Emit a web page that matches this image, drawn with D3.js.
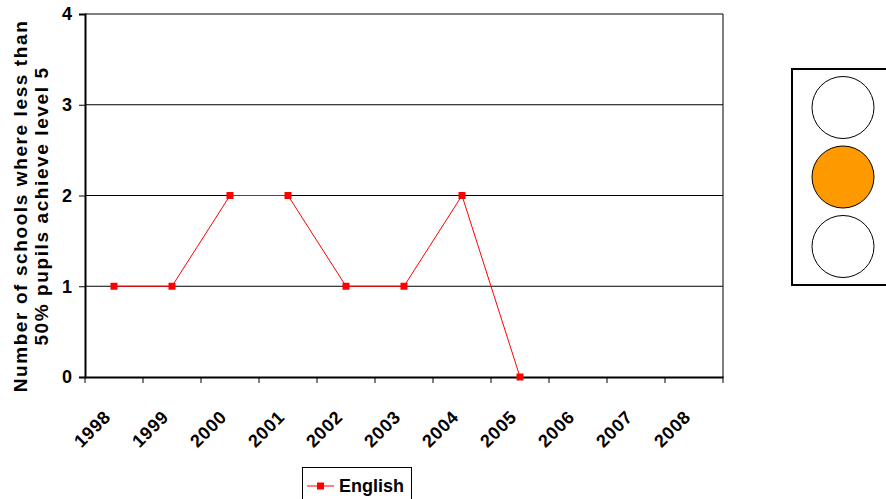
<!DOCTYPE html>
<html><head><meta charset="utf-8">
<script src="https://cdn.jsdelivr.net/npm/d3@7"></script>
<style>
html,body{margin:0;padding:0;background:#fff;}
svg{display:block;font-family:"Liberation Sans",Arial,sans-serif;font-weight:bold;}
</style></head>
<body>
<svg id="chart" width="886" height="499"></svg>
<script>
const years = ["1998","1999","2000","2001","2002","2003","2004","2005","2006","2007","2008"];
const englishValues = [1,1,2,2,1,1,2,0];
const yTicks = [0,1,2,3,4];
const seriesName = "English";
const yTitleLines = ["Number of schools where less than","50% pupils achieve level 5"];
const lights = ["#ffffff","#FF9900","#ffffff"];

const svg = d3.select("#chart");
const mLeft = 85, mRight = 723, mTop = 14, mBottom = 377;

const x = d3.scaleBand().domain(years).range([mLeft, mRight]).padding(0);
const y = d3.scaleLinear().domain([0,4]).range([mBottom, mTop]);

// gridlines
svg.append("g").selectAll("line").data(yTicks.filter(d=>d>0)).join("line")
  .attr("x1", mLeft).attr("x2", mRight)
  .attr("y1", d=>y(d)).attr("y2", d=>y(d))
  .attr("stroke","#000").attr("stroke-width",1);
// right border
svg.append("line").attr("x1",mRight).attr("x2",mRight).attr("y1",mTop).attr("y2",mBottom)
  .attr("stroke","#000").attr("stroke-width",1);

// y axis
const yAxis = svg.append("g").attr("transform",`translate(${mLeft},0)`)
  .call(d3.axisLeft(y).tickValues(yTicks).tickSize(6).tickFormat(d3.format("d")));
yAxis.select(".domain").attr("stroke","#000").attr("stroke-width",2);
yAxis.selectAll(".tick line").attr("stroke","#000");
yAxis.selectAll("text").attr("font-size",18).attr("font-weight","bold")
  .attr("font-family","Liberation Sans, Arial, sans-serif").attr("fill","#000").attr("x",-13);

// x axis
const xAxis = svg.append("g").attr("transform",`translate(0,${mBottom})`)
  .call(d3.axisBottom(x).tickSize(0).tickFormat(""));
xAxis.select(".domain").attr("stroke","#000").attr("stroke-width",2);
xAxis.selectAll(".tick").remove();
const edges = years.map(d=>x(d)).concat([mRight]);
svg.append("g").selectAll("line").data(edges).join("line")
  .attr("x1",d=>d).attr("x2",d=>d).attr("y1",mBottom).attr("y2",mBottom+6)
  .attr("stroke","#000");
svg.append("g").selectAll("text").data(years).join("text")
  .attr("transform", d=>`translate(${x(d)+x.bandwidth()/2-2},${mBottom+41}) rotate(-45)`)
  .attr("text-anchor","end").attr("letter-spacing",0.8)
  .attr("font-size",18).attr("fill","#000").text(d=>d);

// y title
const yt = svg.append("text").attr("transform","translate(0,206) rotate(-90)")
  .attr("text-anchor","middle").attr("font-size",19).attr("letter-spacing",1.6).attr("fill","#000");
yTitleLines.forEach((t,i)=>{
  yt.append("tspan").attr("x",0).attr("y", 27 + i*21).text(t);
});

// line
const pts = englishValues.map((v,i)=>({year:years[i], v}));
svg.append("path").datum(pts)
  .attr("d", d3.line().x(d=>x(d.year)+x.bandwidth()/2).y(d=>y(d.v)))
  .attr("fill","none").attr("stroke","#ff0000").attr("stroke-width",1);
svg.append("g").selectAll("rect").data(pts).join("rect")
  .attr("x", d=>x(d.year)+x.bandwidth()/2-3.5).attr("y", d=>y(d.v)-3.5)
  .attr("width",7).attr("height",7).attr("fill","#ff0000");

// legend
const lg = svg.append("g");
lg.append("rect").attr("x",302.5).attr("y",467.5).attr("width",109).attr("height",40)
  .attr("fill","#fff").attr("stroke","#000").attr("stroke-width",1);
lg.append("line").attr("x1",307).attr("x2",334).attr("y1",486).attr("y2",486)
  .attr("stroke","#ff0000").attr("stroke-width",1);
lg.append("rect").attr("x",317).attr("y",482.5).attr("width",7).attr("height",7).attr("fill","#ff0000");
lg.append("text").attr("x",339).attr("y",492).attr("font-size",18).attr("fill","#000").text(seriesName);

// traffic light
svg.append("rect").attr("x",792).attr("y",69).attr("width",110).attr("height",216)
  .attr("fill","#fff").attr("stroke","#000").attr("stroke-width",2);
svg.append("g").selectAll("circle").data(lights).join("circle")
  .attr("cx",843).attr("cy",(d,i)=>107.5+i*69.5).attr("r",31)
  .attr("fill",d=>d).attr("stroke","#000").attr("stroke-width",1);
</script>
</body></html>
